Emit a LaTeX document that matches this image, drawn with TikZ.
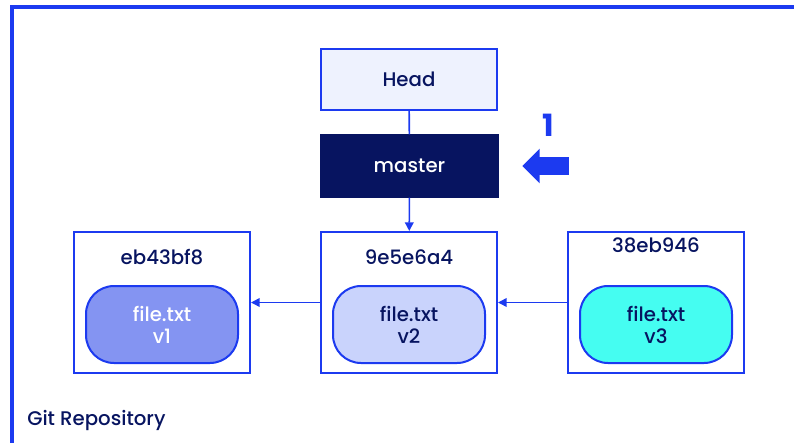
\documentclass[tikz,border=0pt]{standalone}
\usepackage{fontspec}
\setmainfont{Poppins}[UprightFont=* Medium, BoldFont=* Bold]
\usetikzlibrary{positioning,arrows.meta,shapes.arrows}

\definecolor{gitblue}{HTML}{1C3AF0}
\definecolor{gitnavy}{HTML}{071460}
\definecolor{headfill}{HTML}{EEF2FE}
\definecolor{vonefill}{HTML}{8494F2}
\definecolor{vtwofill}{HTML}{C9D3FC}
\definecolor{vthreefill}{HTML}{45FDF1}

\begin{document}
\begin{tikzpicture}[
    x=0.75pt, y=-0.75pt,
    font=\fontsize{14.8}{16.5}\selectfont, text=gitnavy,
    ref/.style    ={draw=gitblue, line width=1.5pt, align=center,
                    minimum width=131.5pt, minimum height=46pt, inner sep=0pt},
    commit/.style ={draw=gitblue, line width=1.5pt,
                    minimum width=132pt, minimum height=105.75pt, inner sep=0pt},
    blob/.style   ={draw=gitblue, line width=1.5pt, rounded corners=21pt, align=center,
                    minimum width=114pt, minimum height=57.75pt, inner sep=0pt},
    arrow/.style  ={-{Triangle[length=6.5pt,width=6.5pt]}, draw=gitblue, line width=1.2pt},
    link/.style   ={draw=gitblue, line width=1.2pt}
]
\useasboundingbox (0,0) rectangle (794,443);

% --- repository frame ---
\draw[gitblue, line width=2.4pt] (12,443) -- (12,7) -- (794,7);
\node[anchor=west, inner sep=0pt] (repo) at (27,420) {Git Repository};

% --- refs ---
\node[ref, fill=headfill] (head) at (409,79.5) {Head};
\node[ref, fill=gitnavy, draw=gitnavy, text=white, minimum width=133pt] (master) at (409.5,166) {master};

% --- commits ---
\node[commit] (c1) at (162,302.5) {};
\node[commit] (c2) at (409,302.5) {};
\node[commit] (c3) at (656,302.5) {};

\node (h1) at (162,257) {eb43bf8};
\node (h2) at (409,257) {9e5e6a4};
\node (h3) at (656,245) {38eb946};

% --- file blobs ---
\node[blob, fill=vonefill, text=white] (f1) at (162,324.5) {file.txt\\v1};
\node[blob, fill=vtwofill]             (f2) at (409,324.5) {file.txt\\v2};
\node[blob, fill=vthreefill]           (f3) at (656,324.5) {file.txt\\v3};

% --- connectors ---
\draw[link]  (head) -- (master);
\draw[arrow] (master) -- (c2);
\draw[arrow] (c2.west) -- (c1.east);
\draw[arrow] (c3.west) -- (c2.east);

% --- step marker ---
\node[single arrow, fill=gitblue, shape border rotate=180,
      inner xsep=0pt, inner ysep=6.4pt, minimum height=35pt,
      single arrow head extend=6.4pt, single arrow head indent=0pt] (marker) at (550,166) {};
\node[font=\fontsize{23}{25}\selectfont\bfseries, text=gitblue] (step) at (548.5,125) {1};

\end{tikzpicture}
\end{document}
